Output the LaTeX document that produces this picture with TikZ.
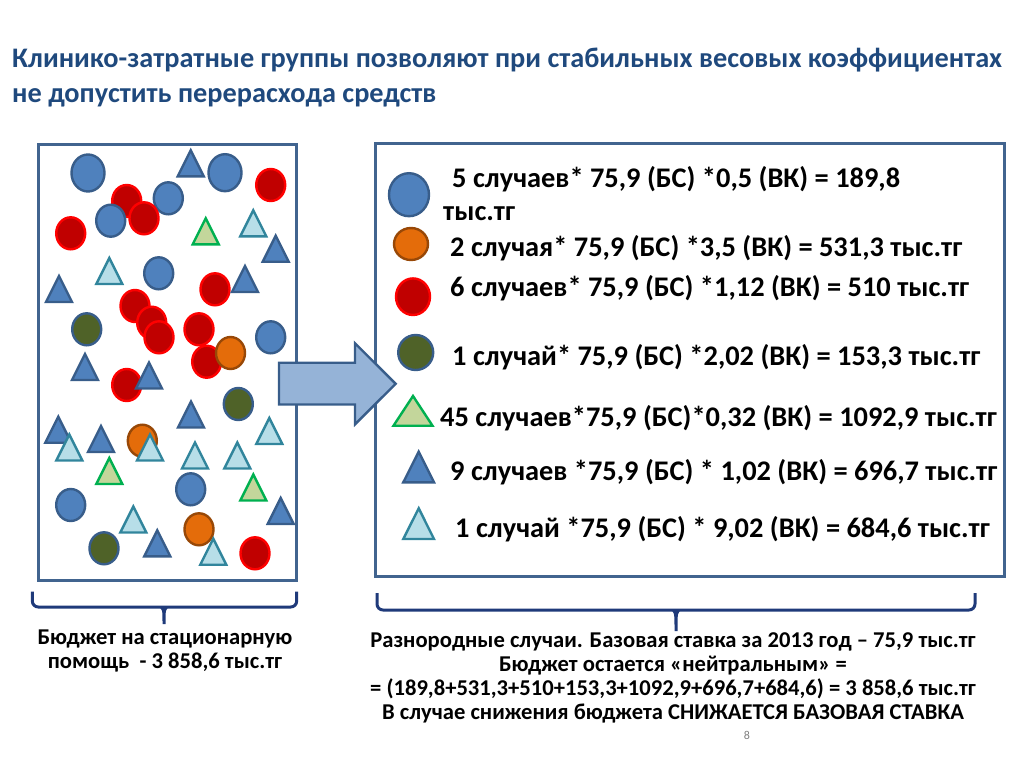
\documentclass[tikz,border=0pt]{standalone}
\usepackage{fontspec}
\setmainfont{Carlito}
\usetikzlibrary{calc}

\definecolor{titleblue}{HTML}{1F497D}
\definecolor{framec}{HTML}{41648F}
\definecolor{bluefill}{HTML}{4F81BD}
\definecolor{bluedraw}{HTML}{385D8A}
\definecolor{redfill}{HTML}{C00000}
\definecolor{reddraw}{HTML}{FF0000}
\definecolor{olivefill}{HTML}{4F6228}
\definecolor{orangefill}{HTML}{E46C0A}
\definecolor{orangedraw}{HTML}{984807}
\definecolor{skyfill}{HTML}{B7DEE8}
\definecolor{skydraw}{HTML}{31859C}
\definecolor{greenfill}{HTML}{C3D69B}
\definecolor{greendraw}{HTML}{00B050}
\definecolor{arrowfill}{HTML}{95B3D7}
\definecolor{bracec}{HTML}{1F3A7A}

\begin{document}
\begin{tikzpicture}[x=1pt, y=-1pt,
  every node/.style={inner sep=0pt, font=\bfseries},
  frame/.style={draw=framec, line width=3pt},
  bcirc/.style={fill=bluefill, draw=bluedraw, line width=2.4pt},
  rcirc/.style={fill=redfill, draw=reddraw, line width=2.4pt},
  ocirc/.style={fill=olivefill, draw=bluedraw, line width=2.4pt},
  acirc/.style={fill=orangefill, draw=orangedraw, line width=2.4pt},
  btri/.style={fill=bluefill, draw=bluedraw, line width=2.4pt},
  stri/.style={fill=skyfill, draw=skydraw, line width=2.4pt},
  gtri/.style={fill=greenfill, draw=greendraw, line width=2.4pt},
  legtext/.style={anchor=west, font=\fontsize{28.4}{33}\selectfont\bfseries, align=left},
  bracestyle/.style={draw=bracec, line width=3pt, rounded corners=6pt}]
  \def\rx{14.5}  % small circle radii
  \def\ry{16}
  \def\th{13}    % triangle half size

  \useasboundingbox (0,0) rectangle (1024,768);

  % Title
  \node[anchor=north west, align=left, text=titleblue,
        font=\fontsize{28.3}{35}\selectfont\bfseries] (title) at (12,48)
    {Клинико-затратные группы позволяют при стабильных весовых коэффициентах\\
     не допустить перерасхода средств};

  % Frames
  \draw[frame] (38,144) rectangle (296,580);
  \draw[frame] (375,143) rectangle (1004,576);

  % Mixed cases in the left frame
  \draw[rcirc] (126.7,201) ellipse [x radius=\rx, y radius=\ry];
  \draw[bcirc] (88,173) ellipse [x radius=16.5, y radius=18.5];
  \draw[bcirc] (225,172.7) ellipse [x radius=16.5, y radius=18.5];
  \foreach \x/\y in {168.3/198.3, 110.7/220.7, 158.7/273.3, 270.7/337.3,
                     190.7/489.3, 70.7/505}
    \draw[bcirc] (\x,\y) ellipse [x radius=\rx, y radius=\ry];
  \foreach \x/\y in {270.7/185, 144/218.3, 70.7/233.3, 215/289.3, 135/306,
                     151.7/322.7, 159/337.3, 199/329.3, 206.7/361.7,
                     126.7/385, 255/553.3}
    \draw[rcirc] (\x,\y) ellipse [x radius=\rx, y radius=\ry];
  \foreach \x/\y in {86.7/329.3, 238.3/404, 104/548.3}
    \draw[ocirc] (\x,\y) ellipse [x radius=\rx, y radius=\ry];
  \foreach \x/\y in {230.5/353, 142.3/440.7, 199/529.3}
    \draw[acirc] (\x,\y) ellipse [x radius=\rx, y radius=\ry];
  \foreach \x/\y in {190.7/163.3, 275.7/248.7, 59/289, 245/279, 85/367,
                     149/375.5, 191/414.5, 58.3/429.7, 101/439,
                     280.7/511, 157.3/543.3}
    \draw[btri] (\x-\th,\y+\th) -- (\x,\y-\th) -- (\x+\th,\y+\th) -- cycle;
  \foreach \x/\y in {253.3/223.3, 109.3/271, 269.3/431, 69.3/447.5,
                     150/447.5, 195/455.5, 237.3/455.5, 133.3/519.5,
                     213.3/551.7}
    \draw[stri] (\x-\th,\y+\th) -- (\x,\y-\th) -- (\x+\th,\y+\th) -- cycle;
  \foreach \x/\y in {205.7/231.3, 109.3/471, 253.3/487.5}
    \draw[gtri] (\x-\th,\y+\th) -- (\x,\y-\th) -- (\x+\th,\y+\th) -- cycle;

  % Block arrow
  \draw[fill=arrowfill, draw=bluedraw, line width=2.4pt]
    (279,362.7) -- (355,362.7) -- (355,343.3) -- (395.7,383.8)
    -- (355,424.3) -- (355,404.5) -- (279,404.5) -- cycle;

  % Legend symbols
  \draw[bcirc] (409,194.7) ellipse [x radius=20, y radius=21.5];
  \draw[acirc] (411,244) ellipse [x radius=17, y radius=16];
  \draw[rcirc] (413,296.7) ellipse [x radius=17, y radius=18.3];
  \draw[ocirc] (415.7,352.5) ellipse [x radius=17.5, y radius=17.5];
  \draw[gtri] (393.5,425.7) -- (413,396) -- (432.5,425.7) -- cycle;
  \draw[btri] (403.3,482.3) -- (418.7,451.7) -- (434,482.3) -- cycle;
  \draw[stri] (403.3,539) -- (418.7,508.3) -- (434,539) -- cycle;

  % Legend texts
  \node[legtext] (blue) at (443,194)
    {\hspace{9pt}5 случаев* 75,9 (БС) *0,5 (ВК) = 189,8\\тыс.тг};
  \node[legtext] (orange) at (450,248) {2 случая* 75,9 (БС) *3,5 (ВК) = 531,3 тыс.тг};
  \node[legtext] (red) at (450,288) {6 случаев* 75,9 (БС) *1,12 (ВК) = 510 тыс.тг};
  \node[legtext] (olive) at (452,357) {1 случай* 75,9 (БС) *2,02 (ВК) = 153,3 тыс.тг};
  \node[legtext] (green) at (440,418) {45 случаев*75,9 (БС)*0,32 (ВК) = 1092,9 тыс.тг};
  \node[legtext] (navy) at (450,472) {9 случаев *75,9 (БС) * 1,02 (ВК) = 696,7 тыс.тг};
  \node[legtext] (sky) at (455,529) {1 случай *75,9 (БС) * 9,02 (ВК) = 684,6 тыс.тг};

  % Braces
  \draw[bracestyle] (32.3,591.7) -- (32.3,607) -- (296.7,607) -- (296.7,591.7);
  \fill[bracec] (158,607) .. controls (162.5,609) .. (162.5,624)
    -- (165.5,624) .. controls (165.5,609) .. (170,607) -- cycle;
  \draw[bracestyle] (377,593) -- (377,610) -- (975,610) -- (975,593);
  \fill[bracec] (670,610) .. controls (674.5,612) .. (674.5,631)
    -- (677.5,631) .. controls (677.5,612) .. (682,610) -- cycle;

  % Bottom captions
  \node[align=center, font=\fontsize{22.6}{23.5}\selectfont\bfseries] (budget) at (165,651)
    {Бюджет на стационарную\\помощь \ - 3 858,6 тыс.тг};
  \node[align=center, font=\fontsize{22.6}{24}\selectfont\bfseries] (neutral) at (673,678)
    {Разнородные случаи. Базовая ставка за 2013 год – 75,9 тыс.тг\\
     Бюджет остается «нейтральным» =\\
     = (189,8+531,3+510+153,3+1092,9+696,7+684,6) = 3 858,6 тыс.тг\\
     В случае снижения бюджета СНИЖАЕТСЯ БАЗОВАЯ СТАВКА};

  % Page number
  \node[font=\fontsize{12}{12}\selectfont, text=gray] (page) at (747,735) {8};
\end{tikzpicture}
\end{document}
